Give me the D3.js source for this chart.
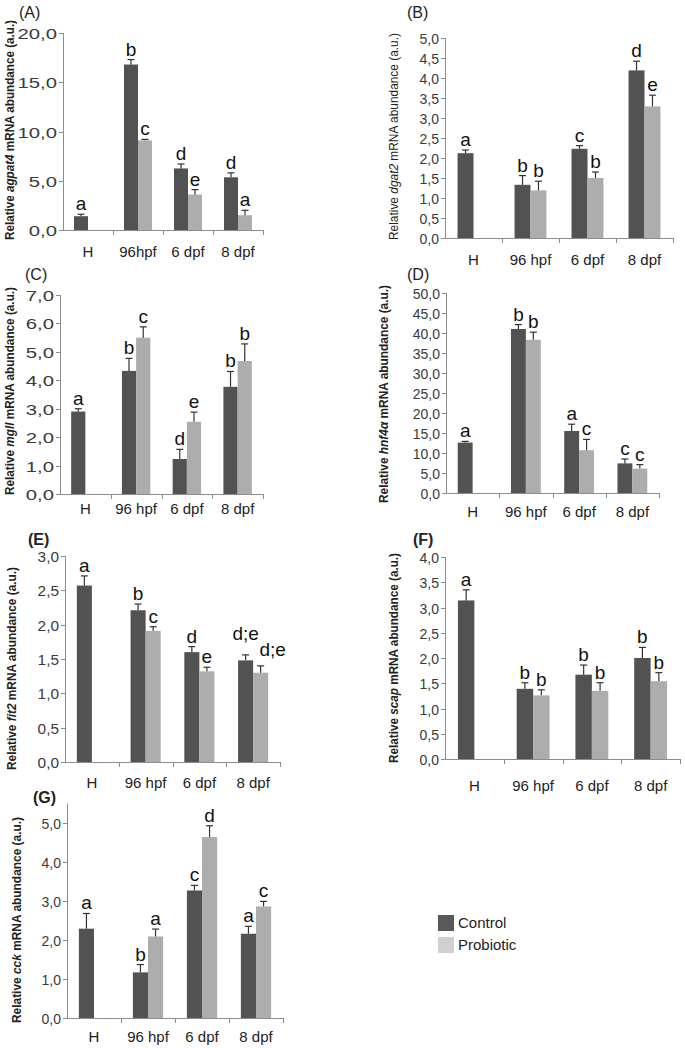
<!DOCTYPE html>
<html><head><meta charset="utf-8">
<script src="https://cdn.jsdelivr.net/npm/d3@7"></script>
<style>body{margin:0;background:#fff}svg{display:block}text{font-family:"Liberation Sans",Arial,sans-serif}</style>
</head><body>
<svg id="c" width="685" height="1048"></svg>
<script>
const categories = ["H","96 hpf","6 dpf","8 dpf"];
const categoriesA = ["H","96hpf","6 dpf","8 dpf"];
const seriesNames = ["Control","Probiotic"];

// (A) agpat4
const agpat4Control = [1.4, 16.8, 6.25, 5.35];
const agpat4ControlErr = [0.2, 0.5, 0.45, 0.45];
const agpat4Probiotic = [null, 9.1, 3.6, 1.5];
const agpat4ProbioticErr = [null, 0.1, 0.5, 0.5];
const agpat4LettersC = ["a","b","d","d"];
const agpat4LettersP = [null,"c","e","a"];
// (B) dgat2
const dgat2Control = [2.12, 1.33, 2.23, 4.19];
const dgat2ControlErr = [0.08, 0.23, 0.08, 0.23];
const dgat2Probiotic = [null, 1.19, 1.5, 3.29];
const dgat2ProbioticErr = [null, 0.23, 0.15, 0.28];
const dgat2LettersC = ["a","b","c","d"];
const dgat2LettersP = [null,"b","b","e"];
// (C) mgll
const mgllControl = [2.9, 4.33, 1.23, 3.77];
const mgllControlErr = [0.1, 0.44, 0.34, 0.54];
const mgllProbiotic = [null, 5.5, 2.54, 4.68];
const mgllProbioticErr = [null, 0.38, 0.34, 0.6];
const mgllLettersC = ["a","b","d","b"];
const mgllLettersP = [null,"c","e","b"];
// (D) hnf4a
const hnf4aControl = [12.6, 41.0, 15.5, 7.4];
const hnf4aControlErr = [0.3, 1.1, 1.7, 1.1];
const hnf4aProbiotic = [null, 38.3, 10.7, 6.1];
const hnf4aProbioticErr = [null, 1.9, 2.7, 1.0];
const hnf4aLettersC = ["a","b","a","c"];
const hnf4aLettersP = [null,"b","c","c"];
// (E) fit2
const fit2Control = [2.57, 2.21, 1.60, 1.48];
const fit2ControlErr = [0.14, 0.09, 0.08, 0.08];
const fit2Probiotic = [null, 1.91, 1.32, 1.30];
const fit2ProbioticErr = [null, 0.06, 0.06, 0.10];
const fit2LettersC = ["a","b","d","d;e"];
const fit2LettersP = [null,"c","e","d;e"];
// (F) scap
const scapControl = [3.14, 1.39, 1.67, 2.0];
const scapControlErr = [0.21, 0.12, 0.19, 0.21];
const scapProbiotic = [null, 1.26, 1.35, 1.54];
const scapProbioticErr = [null, 0.11, 0.16, 0.17];
const scapLettersC = ["a","b","b","b"];
const scapLettersP = [null,"b","b","b"];
// (G) cck
const cckControl = [2.29, 1.17, 3.27, 2.16];
const cckControlErr = [0.39, 0.2, 0.13, 0.19];
const cckProbiotic = [null, 2.09, 4.64, 2.86];
const cckProbioticErr = [null, 0.19, 0.29, 0.13];
const cckLettersC = ["a","b","c","a"];
const cckLettersP = [null,"a","d","c"];

const panels = [
 {tag:"(A)", gene:"agpat4", cats:categoriesA, c:agpat4Control, ce:agpat4ControlErr, p:agpat4Probiotic, pe:agpat4ProbioticErr, lc:agpat4LettersC, lp:agpat4LettersP,
  max:20, step:5, axisMax:20, left:63, right:263, top:33, y0:230, tagPos:[19,18], tagBold:false, xlabY:257, ylab:{x:10,y1:20,y2:240,bold:true}, stretch:1.45, nudge:{}},
 {tag:"(B)", gene:"dgat2", cats:categories, c:dgat2Control, ce:dgat2ControlErr, p:dgat2Probiotic, pe:dgat2ProbioticErr, lc:dgat2LettersC, lp:dgat2LettersP,
  max:5, step:0.5, axisMax:5, left:445, right:673, top:38, y0:238, tagPos:[407,18], tagBold:false, xlabY:265, ylab:{x:394,y1:33,y2:240,bold:false}, stretch:1, nudge:{}},
 {tag:"(C)", gene:"mgll", cats:categories, c:mgllControl, ce:mgllControlErr, p:mgllProbiotic, pe:mgllProbioticErr, lc:mgllLettersC, lp:mgllLettersP,
  max:7, step:1, axisMax:7, left:60, right:263, top:295, y0:494, tagPos:[25,280], tagBold:false, xlabY:514, ylab:{x:10,y1:287,y2:495,bold:true}, stretch:1.45, nudge:{}},
 {tag:"(D)", gene:"hnf4α", cats:categories, c:hnf4aControl, ce:hnf4aControlErr, p:hnf4aProbiotic, pe:hnf4aProbioticErr, lc:hnf4aLettersC, lp:hnf4aLettersP,
  max:50, step:5, axisMax:50, left:446, right:659, top:293, y0:493, tagPos:[407,280], tagBold:false, xlabY:517, ylab:{x:384,y1:285,y2:503,bold:true}, stretch:1, nudge:{}},
 {tag:"(E)", gene:"fit2", cats:categories, c:fit2Control, ce:fit2ControlErr, p:fit2Probiotic, pe:fit2ProbioticErr, lc:fit2LettersC, lp:fit2LettersP,
  max:3, step:0.5, axisMax:3, left:65, right:280, top:556, y0:762, tagPos:[28,545], tagBold:true, xlabY:788, ylab:{x:12,y1:567,y2:770,bold:true}, stretch:1.1,
  nudge:{"8 dpf|Control":[0,-11], "8 dpf|Probiotic":[12,-6]}},
 {tag:"(F)", gene:"scap", cats:categories, c:scapControl, ce:scapControlErr, p:scapProbiotic, pe:scapProbioticErr, lc:scapLettersC, lp:scapLettersP,
  max:4, step:0.5, axisMax:4, left:445, right:680, top:557, y0:759, tagPos:[413,545], tagBold:true, xlabY:791, ylab:{x:394,y1:553,y2:763,bold:true}, stretch:1, nudge:{}},
 {tag:"(G)", gene:"cck", cats:categories, c:cckControl, ce:cckControlErr, p:cckProbiotic, pe:cckProbioticErr, lc:cckLettersC, lp:cckLettersP,
  max:5, step:1, axisMax:5.5, left:67, right:283, top:823, y0:1018, tagPos:[33,803], tagBold:true, xlabY:1042, ylab:{x:17,y1:817,y2:1023,bold:true}, stretch:1, nudge:{}}
];

const colors = {Control:"#525252", Probiotic:"#adadad"};
const axisColor = "#8c8c8c";
const svg = d3.select("#c");
const fmt = v => d3.format(".1f")(v).replace(".", ",");

panels.forEach(P => {
  const g = svg.append("g");
  const y = d3.scaleLinear().domain([0, P.max]).range([P.y0, P.top]);
  const x0 = d3.scaleBand().domain(P.cats).range([P.left, P.right]).padding(0);
  const bw = x0.bandwidth();
  const x1 = d3.scaleBand().domain(seriesNames).range([0.22*bw, 0.78*bw]).padding(0);

  // y axis
  const ticks = d3.range(0, P.max + P.step/2, P.step);
  g.append("line").attr("x1",P.left+0.5).attr("x2",P.left+0.5).attr("y1",P.y0).attr("y2",y(P.axisMax)).attr("stroke",axisColor);
  ticks.forEach(t => {
    const yy = Math.round(y(t)) + 0.5;
    g.append("line").attr("x1",P.left-4).attr("x2",P.left).attr("y1",yy).attr("y2",yy).attr("stroke",axisColor);
    const tx = g.append("text").attr("x",P.left-6).attr("y",yy+5).attr("text-anchor","end")
      .attr("font-size",14).attr("fill","#3a3a3a").text(fmt(t));
    if (P.stretch !== 1) {
      const w = tx.node().getComputedTextLength();
      tx.attr("textLength", w*P.stretch).attr("lengthAdjust","spacingAndGlyphs");
    }
  });
  // x axis
  g.append("line").attr("x1",P.left).attr("x2",P.right).attr("y1",P.y0+0.5).attr("y2",P.y0+0.5).attr("stroke",axisColor);
  P.cats.forEach((c,i) => {
    const xx = Math.round(x0(c)+bw) + 0.5;
    g.append("line").attr("x1",xx).attr("x2",xx).attr("y1",P.y0).attr("y2",P.y0+5).attr("stroke",axisColor);
    g.append("text").attr("x",x0(c)+bw/2).attr("y",P.xlabY).attr("text-anchor","middle")
      .attr("font-size",15).attr("fill","#222").text(c);
  });

  // bars
  const rows = [];
  P.cats.forEach((c,i) => {
    rows.push({cat:c, s:"Control", v:P.c[i], e:P.ce[i], l:P.lc[i]});
    if (P.p[i] != null) rows.push({cat:c, s:"Probiotic", v:P.p[i], e:P.pe[i], l:P.lp[i]});
  });
  rows.forEach(r => {
    const bx = x0(r.cat) + x1(r.s);
    const w = x1.bandwidth();
    g.append("rect").attr("x",bx).attr("y",y(r.v)).attr("width",w).attr("height",P.y0 - y(r.v)).attr("fill",colors[r.s]);
    const cx = bx + w/2;
    const ye = y(r.v + r.e);
    g.append("line").attr("x1",cx).attr("x2",cx).attr("y1",y(r.v)).attr("y2",ye).attr("stroke","#333").attr("stroke-width",1.2);
    g.append("line").attr("x1",cx-3.5).attr("x2",cx+3.5).attr("y1",ye).attr("y2",ye).attr("stroke","#333").attr("stroke-width",1.2);
    const nd = P.nudge[r.cat + "|" + r.s] || [0,0];
    g.append("text").attr("x",cx + nd[0]).attr("y",ye - 4 + nd[1]).attr("text-anchor","middle").attr("font-size",19).attr("fill","#111").text(r.l);
  });

  // panel tag
  g.append("text").attr("x",P.tagPos[0]).attr("y",P.tagPos[1]).attr("font-size",16)
    .attr("font-weight",P.tagBold?"bold":"normal").attr("fill","#222").text(P.tag);

  // y label
  const L = P.ylab;
  const cy = (L.y1+L.y2)/2;
  const yl = g.append("text").attr("transform",`translate(${L.x+4},${cy}) rotate(-90)`).attr("text-anchor","middle")
    .attr("font-size",12).attr("font-weight",L.bold?"bold":"normal").attr("fill","#222");
  yl.append("tspan").text("Relative ");
  yl.append("tspan").attr("font-style","italic").text(P.gene);
  yl.append("tspan").text(" mRNA abundance (a.u.)");
  yl.attr("textLength", L.y2-L.y1).attr("lengthAdjust","spacingAndGlyphs");
});

// legend
const leg = svg.append("g");
seriesNames.forEach((s,i) => {
  const ly = 915 + i*22;
  leg.append("rect").attr("x",438).attr("y",ly).attr("width",16).attr("height",16).attr("fill", i===0 ? "#595959" : "#d0d0d0");
  leg.append("text").attr("x",458).attr("y",ly+13).attr("font-size",15).attr("fill","#222").text(s);
});
</script>
</body></html>
